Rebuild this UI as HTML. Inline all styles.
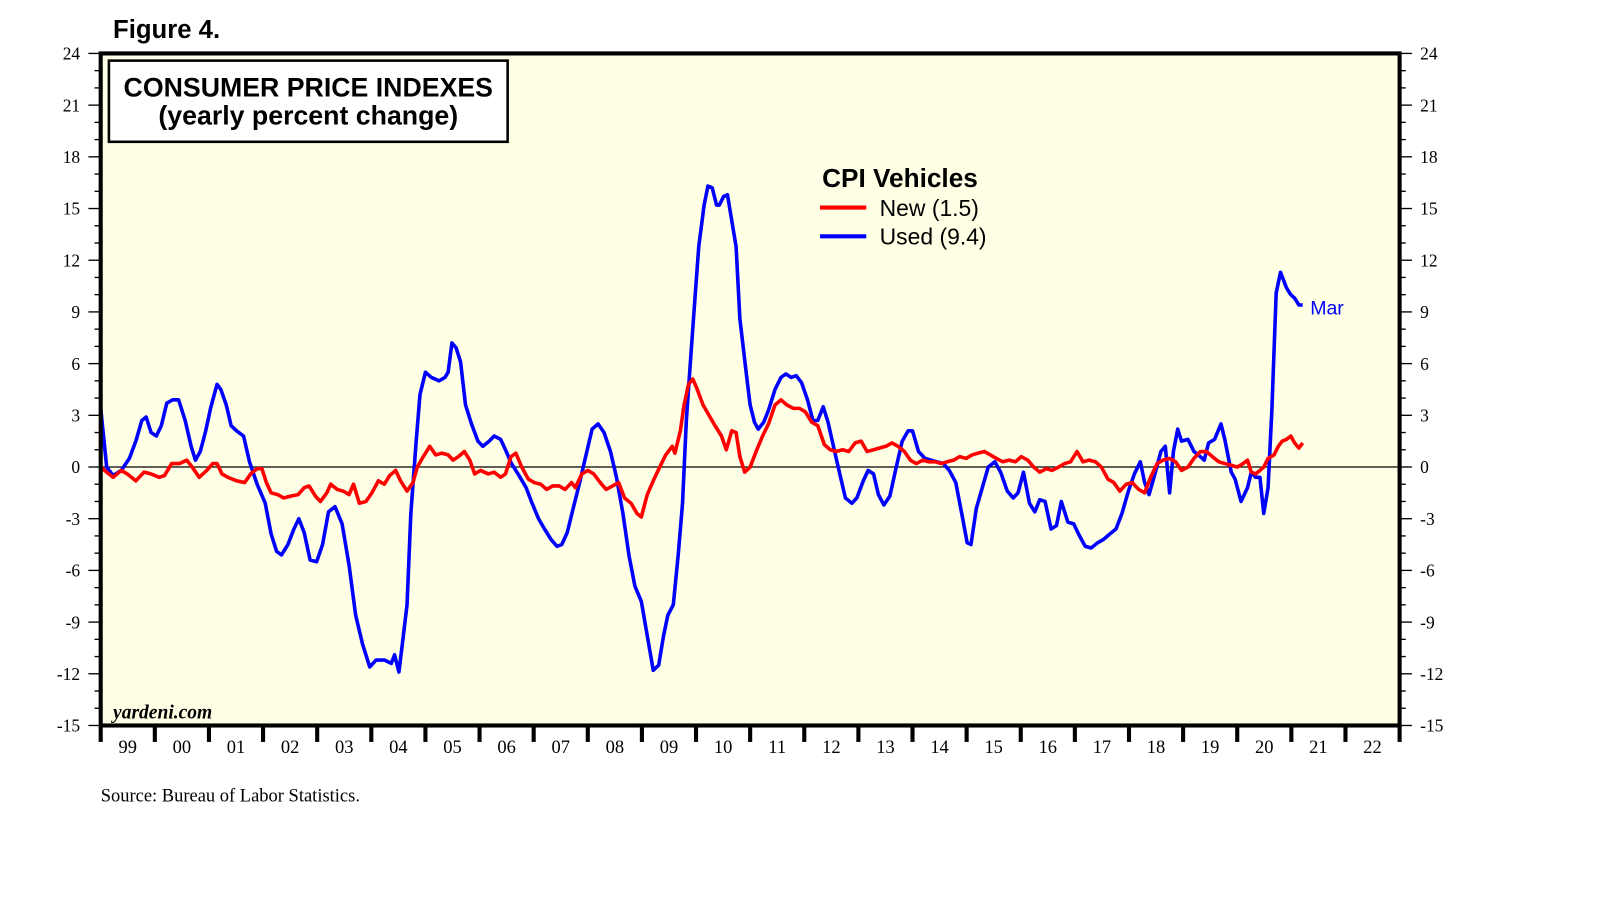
<!DOCTYPE html>
<html><head><meta charset="utf-8"><style>
body{margin:0;background:#fff;width:1610px;height:910px;overflow:hidden}
svg text{font-family:"Liberation Sans",sans-serif}
</style></head><body>
<svg id="chart" width="1610" height="910" xmlns="http://www.w3.org/2000/svg">
<g transform="scale(1.0276)">
<text x="110" y="37" font-size="25" font-weight="bold">Figure 4.</text>
<rect x="98" y="52" width="1264" height="654" fill="#ffffe6"/>
<g id="axes"></g>
<g id="series"></g>
<rect x="98" y="52" width="1264" height="654" fill="none" stroke="#000" stroke-width="4"/>
<rect x="106" y="59" width="388" height="79" fill="#fff" stroke="#000" stroke-width="2.5"/>
<text x="300" y="94" font-size="26" font-weight="bold" text-anchor="middle">CONSUMER PRICE INDEXES</text>
<text x="300" y="121" font-size="26" font-weight="bold" text-anchor="middle">(yearly percent change)</text>
<text x="800" y="182" font-size="25.5" font-weight="bold">CPI Vehicles</text>
<line x1="798" y1="202" x2="843" y2="202" stroke="#f00" stroke-width="4"/>
<text x="856" y="210" font-size="22.3">New (1.5)</text>
<line x1="798" y1="230" x2="843" y2="230" stroke="#00f" stroke-width="4"/>
<text x="856" y="238" font-size="22.3">Used (9.4)</text>
<text x="1275" y="306" font-size="19" fill="#00f">Mar</text>
<text x="110" y="699" font-size="19" font-style="italic" font-weight="bold" style="font-family:'Liberation Serif',serif">yardeni.com</text>
<text x="98" y="780" font-size="18" style="font-family:'Liberation Serif',serif">Source: Bureau of Labor Statistics.</text>
</g>
</svg>
<script>
const yTicks=[24,21,18,15,12,9,6,3,0,-3,-6,-9,-12,-15];
const yearLabels=["99","00","01","02","03","04","05","06","07","08","09","10","11","12","13","14","15","16","17","18","19","20","21","22"];
const usedDates=[0,.11,.23,.38,.53,.65,.76,.84,.93,1.03,1.12,1.22,1.33,1.44,1.56,1.67,1.75,1.84,1.94,2.03,2.15,2.22,2.32,2.41,2.51,2.64,2.75,2.89,3.04,3.15,3.25,3.34,3.46,3.57,3.66,3.76,3.87,3.99,4.10,4.21,4.33,4.46,4.59,4.71,4.84,4.97,5.09,5.24,5.37,5.43,5.51,5.58,5.66,5.73,5.83,5.90,6.00,6.11,6.25,6.36,6.42,6.49,6.57,6.65,6.74,6.85,6.97,7.06,7.18,7.27,7.39,7.48,7.59,7.73,7.86,7.97,8.09,8.20,8.32,8.43,8.52,8.62,8.73,8.85,8.96,9.08,9.19,9.30,9.42,9.53,9.65,9.76,9.87,9.99,10.10,10.21,10.31,10.40,10.48,10.58,10.67,10.75,10.82,10.90,10.98,11.05,11.15,11.22,11.30,11.38,11.43,11.51,11.58,11.66,11.74,11.81,11.93,12.00,12.08,12.15,12.25,12.34,12.46,12.57,12.66,12.76,12.85,12.95,13.06,13.16,13.25,13.35,13.44,13.56,13.67,13.76,13.88,13.97,14.09,14.18,14.28,14.37,14.47,14.58,14.70,14.81,14.92,15.00,15.11,15.23,15.34,15.45,15.57,15.68,15.80,15.91,16.01,16.08,16.18,16.29,16.40,16.52,16.63,16.75,16.86,16.95,17.05,17.16,17.26,17.35,17.45,17.56,17.66,17.75,17.87,17.98,18.07,18.19,18.30,18.42,18.53,18.64,18.76,18.87,18.99,19.10,19.21,19.29,19.37,19.48,19.59,19.67,19.75,19.82,19.90,19.97,20.09,20.20,20.32,20.39,20.47,20.58,20.70,20.77,20.89,20.96,21.07,21.19,21.26,21.34,21.42,21.49,21.57,21.64,21.72,21.80,21.91,21.99,22.06,22.14,22.21];
const usedValues=[3.4,0,-0.5,-0.2,0.5,1.5,2.7,2.9,2,1.8,2.4,3.7,3.9,3.9,2.7,1.2,0.4,0.9,2.1,3.4,4.8,4.5,3.6,2.4,2.1,1.8,0.3,-1,-2.1,-3.9,-4.9,-5.1,-4.5,-3.6,-3,-3.8,-5.4,-5.5,-4.5,-2.6,-2.3,-3.3,-5.7,-8.6,-10.3,-11.6,-11.2,-11.2,-11.4,-10.9,-11.9,-10.1,-8,-2.7,1.5,4.2,5.5,5.2,5,5.2,5.5,7.2,6.9,6.1,3.6,2.5,1.5,1.2,1.5,1.8,1.6,1,0.2,-0.5,-1.2,-2.1,-3,-3.6,-4.2,-4.6,-4.5,-3.8,-2.4,-0.9,0.6,2.2,2.5,2,0.9,-0.6,-2.7,-5.1,-6.9,-7.8,-9.8,-11.8,-11.5,-9.8,-8.6,-8,-5.1,-2.1,2.7,6.3,9.8,12.8,15.2,16.3,16.2,15.2,15.2,15.7,15.8,14.3,12.8,8.6,5.4,3.6,2.6,2.2,2.6,3.3,4.5,5.2,5.4,5.2,5.3,4.9,3.9,2.7,2.7,3.5,2.6,0.9,-0.6,-1.8,-2.1,-1.8,-0.8,-0.2,-0.4,-1.6,-2.2,-1.7,0,1.5,2.1,2.1,0.9,0.5,0.4,0.3,0.2,-0.2,-0.9,-2.7,-4.4,-4.5,-2.4,-1.2,0,0.3,-0.3,-1.4,-1.8,-1.5,-0.3,-2.1,-2.6,-1.9,-2,-3.6,-3.4,-2,-3.2,-3.3,-3.9,-4.6,-4.7,-4.4,-4.2,-3.9,-3.6,-2.7,-1.4,-0.4,0.3,-0.9,-1.6,-0.4,0.9,1.2,-1.5,0.9,2.2,1.5,1.6,0.9,0.6,0.4,1.4,1.6,2.5,1.6,-0.3,-0.7,-2,-1.2,-0.3,-0.6,-0.6,-2.7,-1.2,3.3,10.1,11.3,10.4,10,9.8,9.4,9.4];
const newDates=[0,.11,.23,.38,.49,.65,.80,.93,1.08,1.18,1.31,1.46,1.59,1.69,1.82,1.96,2.07,2.15,2.24,2.35,2.51,2.66,2.77,2.89,2.98,3.06,3.15,3.27,3.38,3.49,3.65,3.76,3.85,3.97,4.06,4.18,4.25,4.37,4.48,4.59,4.67,4.78,4.90,5.01,5.13,5.24,5.34,5.45,5.54,5.66,5.77,5.85,5.96,6.08,6.19,6.30,6.42,6.51,6.61,6.72,6.82,6.91,7.02,7.16,7.27,7.39,7.48,7.58,7.67,7.78,7.90,8.01,8.13,8.24,8.35,8.47,8.58,8.70,8.77,8.89,9.00,9.11,9.23,9.34,9.46,9.57,9.68,9.80,9.91,9.99,10.10,10.21,10.33,10.44,10.56,10.61,10.71,10.78,10.86,10.94,11.01,11.13,11.24,11.35,11.47,11.56,11.66,11.74,11.81,11.90,12.00,12.11,12.23,12.34,12.46,12.57,12.68,12.80,12.91,13.02,13.14,13.25,13.37,13.48,13.59,13.71,13.82,13.94,14.05,14.16,14.28,14.39,14.51,14.62,14.73,14.85,14.96,15.07,15.19,15.30,15.42,15.53,15.64,15.76,15.87,15.99,16.10,16.21,16.33,16.44,16.55,16.67,16.78,16.90,17.01,17.13,17.24,17.35,17.47,17.58,17.70,17.81,17.92,18.04,18.15,18.26,18.38,18.49,18.61,18.72,18.83,18.95,19.06,19.18,19.29,19.40,19.52,19.63,19.75,19.86,19.97,20.09,20.20,20.32,20.43,20.54,20.66,20.77,20.89,21.00,21.11,21.19,21.26,21.34,21.42,21.49,21.57,21.68,21.76,21.83,21.91,21.99,22.06,22.14,22.21];
const newValues=[0,-0.3,-0.6,-0.2,-0.4,-0.8,-0.3,-0.4,-0.6,-0.5,0.2,0.2,0.4,0,-0.6,-0.2,0.2,0.2,-0.4,-0.6,-0.8,-0.9,-0.4,-0.1,-0.1,-0.9,-1.5,-1.6,-1.8,-1.7,-1.6,-1.2,-1.1,-1.7,-2,-1.5,-1,-1.3,-1.4,-1.6,-1,-2.1,-2,-1.5,-0.8,-1,-0.5,-0.2,-0.8,-1.4,-0.9,0,0.6,1.2,0.7,0.8,0.7,0.4,0.6,0.9,0.4,-0.4,-0.2,-0.4,-0.3,-0.6,-0.4,0.6,0.8,0,-0.7,-0.9,-1,-1.3,-1.1,-1.1,-1.3,-0.9,-1.2,-0.4,-0.2,-0.4,-0.9,-1.3,-1.1,-0.9,-1.8,-2.1,-2.7,-2.9,-1.6,-0.8,0,0.7,1.2,0.8,2.1,3.6,4.8,5.1,4.6,3.6,3,2.4,1.8,1,2.1,2,0.6,-0.3,0,0.9,1.8,2.5,3.6,3.9,3.6,3.4,3.4,3.2,2.6,2.4,1.3,1,0.9,1,0.9,1.4,1.5,0.9,1,1.1,1.2,1.4,1.2,0.9,0.4,0.2,0.4,0.3,0.3,0.2,0.3,0.4,0.6,0.5,0.7,0.8,0.9,0.7,0.5,0.3,0.4,0.3,0.6,0.4,0,-0.3,-0.1,-0.2,0,0.2,0.3,0.9,0.3,0.4,0.3,0,-0.7,-0.9,-1.4,-1,-0.9,-1.3,-1.5,-0.6,0.2,0.4,0.5,0.3,-0.2,0,0.5,0.9,0.9,0.6,0.3,0.2,0.1,0,0.2,0.4,-0.3,-0.4,-0.2,0,0.5,0.7,1.2,1.5,1.6,1.8,1.4,1.1,1.4];

const NS="http://www.w3.org/2000/svg";
const L=98,R=1362,T=52,B=706,yMin=-15,yMax=24,x0=1999,x1=2023;
const sx=d=>L+(d-x0)/(x1-x0)*(R-L);
const sy=v=>B-(v-yMin)/(yMax-yMin)*(B-T);
function mk(tag,attrs,parent){const e=document.createElementNS(NS,tag);for(const k in attrs)e.setAttribute(k,attrs[k]);parent.appendChild(e);return e;}
const ax=document.getElementById('axes');
for(let v=yMin;v<=yMax;v++){
  const major=yTicks.includes(v);
  const t1=mk('line',{x1:L-(major?12:6),x2:L,y1:sy(v),y2:sy(v),stroke:'#000','stroke-width':1.3},ax);
  
  
  const t2=mk('line',{x1:R,x2:R+(major?12:6),y1:sy(v),y2:sy(v),stroke:'#000','stroke-width':1.3},ax);
  
  
}
yTicks.forEach(v=>{
  const a=mk('text',{x:L-20,y:sy(v)+6,'text-anchor':'end','font-size':17,style:"font-family:'Liberation Serif',serif"},ax);a.textContent=v;
  
  
  const b=mk('text',{x:R+20,y:sy(v)+6,'font-size':17,style:"font-family:'Liberation Serif',serif"},ax);b.textContent=v;
  
  
});
const z=mk('line',{x1:L,x2:R,y1:sy(0),y2:sy(0),stroke:'#000','stroke-width':1.2},ax);


yearLabels.forEach((lab,i)=>{
  const tk=mk('line',{x1:sx(x0+i),x2:sx(x0+i),y1:B,y2:B+16,stroke:'#000','stroke-width':4},ax);
  
  
  const tx=mk('text',{x:sx(x0+i+0.5),y:B+27,'text-anchor':'middle','font-size':18,style:"font-family:'Liberation Serif',serif"},ax);tx.textContent=lab;
  
  
});
const tkEnd=mk('line',{x1:R,x2:R,y1:B,y2:B+16,stroke:'#000','stroke-width':4},ax);


const sg=document.getElementById('series');
function line(dates,vals,color,name){
  const d=dates.map((t,i)=>(i?'L':'M')+sx(x0+t).toFixed(1)+','+sy(vals[i]).toFixed(1)).join('');
  const p=mk('path',{d:d,fill:'none',stroke:color,'stroke-width':3.5,'stroke-linejoin':'round'},sg);
  
  
}
line(usedDates,usedValues,'#0000ff','used-vehicles-line');
line(newDates,newValues,'#ff0000','new-vehicles-line');
</script>
</body></html>
